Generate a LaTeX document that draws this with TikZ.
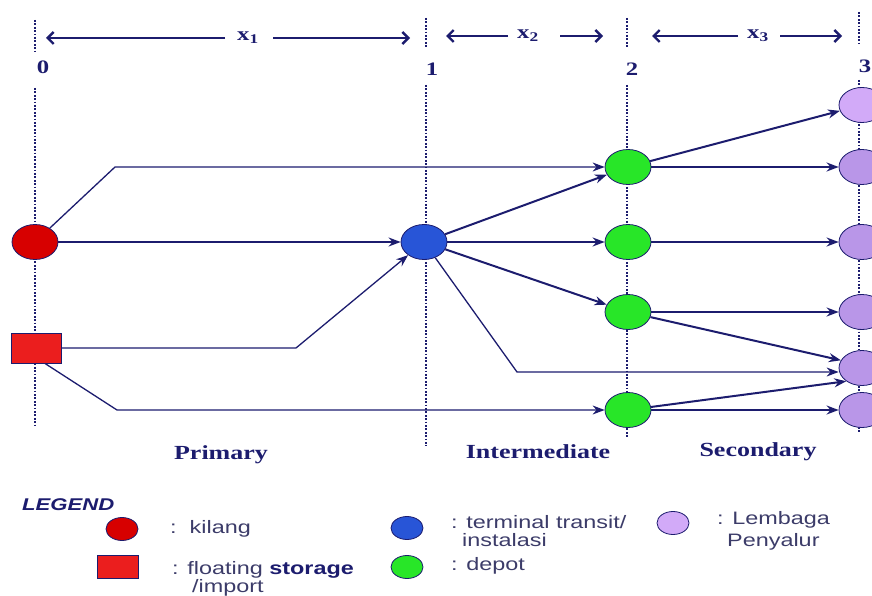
\documentclass[tikz,border=0pt]{standalone}
\usepackage{fontspec}
\setmainfont{Liberation Serif}
\setsansfont{Liberation Sans}
\usetikzlibrary{arrows.meta,shapes.geometric}
\definecolor{navy}{RGB}{28,28,110}
\definecolor{legtxt}{RGB}{60,60,105}
\definecolor{kred}{RGB}{215,0,0}
\definecolor{sqred}{RGB}{235,30,30}
\definecolor{tblue}{RGB}{40,85,215}
\definecolor{dgreen}{RGB}{40,230,40}
\definecolor{lpurple}{RGB}{210,170,248}
\definecolor{mpurple}{RGB}{185,150,232}
\newcommand\sx[1]{\scalebox{1.3}[1]{#1}}
\begin{document}
\begin{tikzpicture}[x=1pt,y=-1pt,
  nd/.style={ellipse,draw=navy,line width=0.8pt,minimum width=46pt,minimum height=35pt,inner sep=0pt},
  lg/.style={ellipse,draw=navy,line width=0.8pt,minimum width=32pt,minimum height=23pt,inner sep=0pt},
  sqbox/.style={rectangle,draw=navy,line width=0.8pt,fill=sqred,inner sep=0pt},
  vdot/.style={navy,line width=2.6pt,dash pattern=on 1.8pt off 1.6pt},
  arr/.style={navy,line width=2pt,-{Stealth[length=12pt,width=9pt]}},
  arrthin/.style={navy,line width=1.3pt,-{Stealth[length=12pt,width=9pt]}},
  toparr/.style={navy,line width=2.4pt,-{Straight Barb[length=6pt,width=12pt,line width=2.4pt]}},
  numlab/.style={font=\bfseries\fontsize{19}{19}\selectfont,text=navy,inner sep=0pt},
  sect/.style={font=\bfseries\fontsize{20}{20}\selectfont,text=navy,inner sep=0pt},
  legt/.style={anchor=west,font=\sffamily\fontsize{18}{18}\selectfont,text=legtxt,inner sep=0pt}]
\useasboundingbox (0,0) rectangle (872,596);
\clip (0,0) rectangle (872,596);

% dotted stage lines
\draw[vdot] (35,20) -- (35,52);
\draw[vdot] (35,88) -- (35,425);
\draw[vdot] (426,18) -- (426,48);
\draw[vdot] (426,85) -- (426,446);
\draw[vdot] (627,18) -- (627,48);
\draw[vdot] (627,85) -- (627,438);
\draw[vdot] (859,12) -- (859,44);
\draw[vdot] (859,80) -- (859,432);

% stage numbers
\node[numlab] (n0) at (43,67) {\sx{0}};
\node[numlab] (n1) at (432,69) {\sx{1}};
\node[numlab] (n2) at (632,69) {\sx{2}};
\node[numlab] (n3) at (865,66) {\sx{3}};

% distance arrows
\node[numlab] (x1) at (248,38) {\sx{x\textsubscript{1}}};
\node[numlab] (x2) at (528,36) {\sx{x\textsubscript{2}}};
\node[numlab] (x3) at (758,36) {\sx{x\textsubscript{3}}};
\coordinate (x1a) at (225,38); \coordinate (x1L) at (46,38);
\coordinate (x1b) at (273,38); \coordinate (x1R) at (410,38);
\coordinate (x2a) at (508,36); \coordinate (x2L) at (446,36);
\coordinate (x2b) at (560,36); \coordinate (x2R) at (603,36);
\coordinate (x3a) at (738,36); \coordinate (x3L) at (652,36);
\coordinate (x3b) at (780,36); \coordinate (x3R) at (842,36);
\draw[toparr] (x1a) -- (x1L);
\draw[toparr] (x1b) -- (x1R);
\draw[toparr] (x2a) -- (x2L);
\draw[toparr] (x2b) -- (x2R);
\draw[toparr] (x3a) -- (x3L);
\draw[toparr] (x3b) -- (x3R);

% nodes
\node[nd,fill=kred] (kil) at (35,242) {};
\node[sqbox,minimum width=50pt,minimum height=30pt] (fs) at (36,348) {};
\node[nd,fill=tblue] (tt) at (424,242) {};
\node[nd,fill=dgreen] (g1) at (628,167) {};
\node[nd,fill=dgreen] (g2) at (628,242) {};
\node[nd,fill=dgreen] (g3) at (628,312) {};
\node[nd,fill=dgreen] (g4) at (628,410) {};
\node[nd,fill=lpurple] (p1) at (862,105) {};
\node[nd,fill=mpurple] (p2) at (862,167) {};
\node[nd,fill=mpurple] (p3) at (862,242) {};
\node[nd,fill=mpurple] (p4) at (862,312) {};
\node[nd,fill=mpurple] (p5) at (862,368) {};
\node[nd,fill=mpurple] (p6) at (862,410) {};

% bends
\coordinate (b1) at (115,167);
\coordinate (b2) at (517,372);
\coordinate (b3) at (296,348);
\coordinate (b4) at (117,410);

% connectors
\draw[arrthin] (kil) -- (b1) -- (g1);
\draw[arr] (kil) -- (tt);
\draw[arrthin] (fs) -- (b3) -- (tt);
\draw[arrthin] (fs.-60) -- (b4) -- (g4);
\draw[arr] (tt) -- (g1);
\draw[arr] (tt) -- (g2);
\draw[arr] (tt) -- (g3);
\draw[arrthin] (tt) -- (b2) -- (p5.west |- b2);
\draw[arr] (g1) -- (p1);
\draw[arr] (g1) -- (p2);
\draw[arr] (g2) -- (p3);
\draw[arr] (g3) -- (p4);
\draw[arr] (g3) -- (p5.160);
\draw[arr] (g4) -- (p5.220);
\draw[arr] (g4) -- (p6);

% section labels
\node[sect] (prim) at (221,455) {\sx{Primary}};
\node[sect] (inter) at (538,452) {\sx{Intermediate}};
\node[sect] (sec) at (758,452) {\sx{Secondary}};

% legend
\node[anchor=west,font=\sffamily\bfseries\itshape\fontsize{17}{17}\selectfont,text=navy,inner sep=0pt] (leg) at (22,505) {\sx{LEGEND}};
\node[lg,fill=kred] (lk) at (122,529) {};
\node[legt] (tk) at (170,529) {\sx{:\ \ kilang}};
\node[sqbox,minimum width=41pt,minimum height=23pt] (lf) at (118,567) {};
\node[legt] (tf) at (172,570) {\sx{: floating \textcolor{navy}{\bfseries storage}}};
\node[legt] (tf2) at (192,588) {\sx{/import}};
\node[lg,fill=tblue] (lt) at (407,528) {};
\node[legt] (tt1) at (451,522) {\sx{: terminal transit/}};
\node[legt] (tt2) at (462,540) {\sx{instalasi}};
\node[lg,fill=dgreen] (ld) at (407,567) {};
\node[legt] (td) at (451,566) {\sx{: depot}};
\node[lg,fill=lpurple] (lp) at (673,523) {};
\node[legt] (tl1) at (717,520) {\sx{: Lembaga}};
\node[legt] (tl2) at (727,542) {\sx{Penyalur}};
\end{tikzpicture}
\end{document}
